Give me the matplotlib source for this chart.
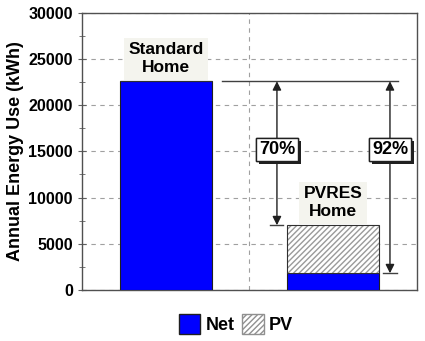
import matplotlib
matplotlib.use('Agg')
import matplotlib.pyplot as plt
from matplotlib.patches import Patch
import matplotlib.patheffects as pe

# ================= 数据 =================
categories = ['Standard\nHome', 'PVRES\nHome']
net_use = [22600, 1800]
pv_offset = [0, 5200]
reduction_labels = ['70%', '92%']

plt.rcParams['font.family'] = ['Liberation Sans', 'DejaVu Sans']
plt.rcParams['font.weight'] = 'bold'
plt.rcParams['font.size'] = 11
plt.rcParams['hatch.linewidth'] = 1.0

fig = plt.figure(figsize=(4.25, 3.41), dpi=100)
ax = fig.add_axes([0.193, 0.150, 0.788, 0.812])

x = [0, 1]
totals = [n + p for n, p in zip(net_use, pv_offset)]
ax.bar(x, net_use, width=0.55, color='#0000ff', edgecolor='#202020', lw=0.8, zorder=3)
ax.bar(x, pv_offset, bottom=net_use, width=0.55, color='white', edgecolor='#9a9a9a',
       hatch='//////', lw=0, zorder=3)
ax.bar(x, pv_offset, bottom=net_use, width=0.55, fill=False, edgecolor='#303030', lw=0.8, zorder=4)

# 柱顶标签
for xi, t, lab in zip(x, totals, categories):
    ax.text(xi, t + 650, lab, ha='center', va='bottom', fontsize=12.5, fontweight='bold',
            linespacing=1.25, zorder=5,
            bbox=dict(boxstyle='square,pad=0.25', fc='#f4f4ee', ec='none'))

# 参考线与箭头
ref = net_use[0]
ax.plot([0.336, 1.386], [ref, ref], color='#404040', lw=1, zorder=4)
ax.plot([0.62, 0.70], [totals[1], totals[1]], color='#404040', lw=1, zorder=4)
ax.plot([1.30, 1.38], [net_use[1], net_use[1]], color='#404040', lw=1, zorder=4)

arrow_x = [0.664, 1.339]
arrow_end = [totals[1], net_use[1]]
box_y = 15200
for ax_x, end, lab in zip(arrow_x, arrow_end, reduction_labels):
    ap = dict(arrowstyle='-|>', color='#202020', lw=1, shrinkA=0, shrinkB=0, mutation_scale=13)
    ax.annotate('', xy=(ax_x, ref), xytext=(ax_x, box_y), arrowprops=ap, zorder=4)
    ax.annotate('', xy=(ax_x, end), xytext=(ax_x, box_y), arrowprops=ap, zorder=4)
    t = ax.text(ax_x, box_y, lab, ha='center', va='center', fontsize=13, fontweight='bold',
                zorder=6, bbox=dict(boxstyle='square,pad=0.15', fc='white', ec='#202020', lw=1))
    t.get_bbox_patch().set_path_effects([
        pe.withSimplePatchShadow(offset=(2, -2), shadow_rgbFace='#202020', alpha=1), pe.Normal()])

# 坐标轴
ax.set_xlim(-0.5, 1.5)
ax.set_ylim(0, 30000)
ax.set_yticks(range(0, 30001, 5000))
ax.set_yticks(range(2500, 30000, 5000), minor=True)
ax.set_xticks([0.5])
ax.set_xticklabels([])
ax.tick_params(axis='x', length=0)
ax.tick_params(axis='y', which='both', direction='inout', length=6, color='#606060', labelsize=11.5)
ax.tick_params(axis='y', which='minor', length=5)
for lab in ax.get_yticklabels():
    lab.set_fontweight('bold')
ax.grid(True, which='major', color='#a0a0a0', linestyle=(0, (4, 4)), lw=0.8, zorder=0)
for s in ax.spines.values():
    s.set_color('#505050')
    s.set_linewidth(1)
ax.set_ylabel('Annual Energy Use (kWh)', fontsize=13, fontweight='bold', labelpad=3)

# 图例
handles = [Patch(facecolor='#0000ff', edgecolor='#202020', label='Net'),
           Patch(facecolor='white', edgecolor='#909090', hatch='//////', label='PV')]
fig.legend(handles=handles, loc='center', bbox_to_anchor=(0.555, 0.05), ncol=2, frameon=False,
           handlelength=1.2, handleheight=1.3, handletextpad=0.3, columnspacing=0.4,
           prop={'weight': 'bold', 'size': 13})

fig.savefig('out.png', dpi=100)
